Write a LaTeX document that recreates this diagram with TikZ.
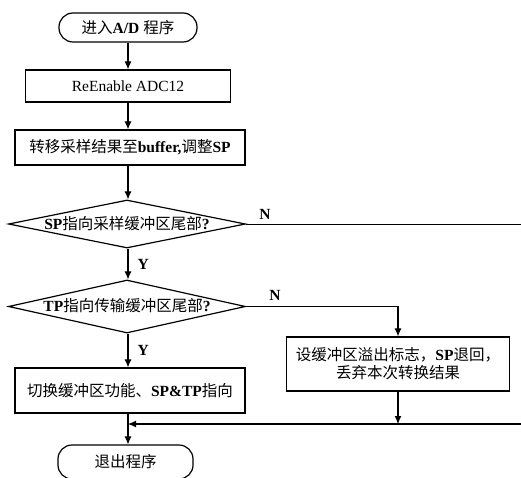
\documentclass[tikz,border=0pt]{standalone}
\usepackage{fontspec}
\setmainfont{Liberation Serif}
\newfontfamily\cjk{Noto Sans CJK SC}[Scale=1.0]
\usetikzlibrary{shapes.geometric,arrows.meta}
\begin{document}
\begin{tikzpicture}[x=1pt,y=-1pt, font=\fontsize{15.5}{18}\selectfont,
  box/.style={draw, line width=1.2pt, rectangle, inner sep=0pt, align=center},
  term/.style={draw, line width=1.2pt, rounded corners=14pt, rectangle, inner sep=0pt},
  dec/.style={draw, line width=1.2pt, diamond, aspect=4.94, inner sep=0pt, text height=10pt, text depth=0pt},
  flow/.style={line width=1.1pt, -{Latex[length=8pt,width=7pt]}},
  plainline/.style={line width=1pt},
  lab/.style={font=\fontsize{15.5}{18}\selectfont\bfseries, inner sep=1pt}]
\useasboundingbox (0,0) rectangle (521,478);
\clip (0,0) rectangle (521,478);

\node[term, minimum width=138pt, minimum height=29pt] (start) at (128,27.5) {{\cjk 进入}\textbf{A/D} {\cjk 程序}};
\node[box, minimum width=205pt, minimum height=32pt] (b1) at (128,86) {ReEnable ADC12};
\node[box, minimum width=230pt, minimum height=35pt] (b2) at (130,147.5) {{\cjk 转移采样结果至}\textbf{buffer,}{\cjk 调整}\textbf{SP}};
\node[dec, minimum width=237pt, minimum height=48pt] (d1) at (127,224) {\textbf{SP}{\cjk 指向采样缓冲区尾部}\textbf{?}};
\node[dec, minimum width=237pt, minimum height=53pt] (d2) at (127,306.5) {\textbf{TP}{\cjk 指向传输缓冲区尾部}\textbf{?}};
\node[box, minimum width=223pt, minimum height=54pt] (b3) at (398,364) {{\cjk 设缓冲区溢出标志，}\textbf{SP}{\cjk 退回，}\\{\cjk 丢弃本次转换结果}};
\node[box, minimum width=230pt, minimum height=45pt] (b4) at (130,390.5) {{\cjk 切换缓冲区功能、}\textbf{SP\&TP}{\cjk 指向}};
\node[term, minimum width=135pt, minimum height=34pt] (exit) at (125.5,462) {{\cjk 退出程序}};

\coordinate (r1) at (521,224);
\coordinate (r2) at (521,424);
\coordinate (m) at (128,424);

\draw[flow] (start.south) -- (start.south |- b1.north);
\draw[flow] (b1.south) -- (b1.south |- b2.north);
\draw[flow] (b2.south -| b1.south) -- (b1.south |- d1.north);
\draw[flow] (b1.south |- d1.south) -- (b1.south |- d2.north) node[lab, midway, right=8pt] (y1) {Y};
\draw[flow] (b1.south |- d2.south) -- (b1.south |- b4.north) node[lab, midway, right=8pt] (y2) {Y};
\draw[plainline] (d1.east) -- (r1);
\node[lab] (n1) at (265,214) {N};
\draw[flow] (d2.east) -| (b3.north);
\node[lab] (n2) at (275,295) {N};
\draw[flow] (b3.south) -- (b3.south |- m);
\draw[flow] (r2) -- (m);
\draw[flow] (b4.south -| m) -- (exit.north -| m);
\end{tikzpicture}
\end{document}
